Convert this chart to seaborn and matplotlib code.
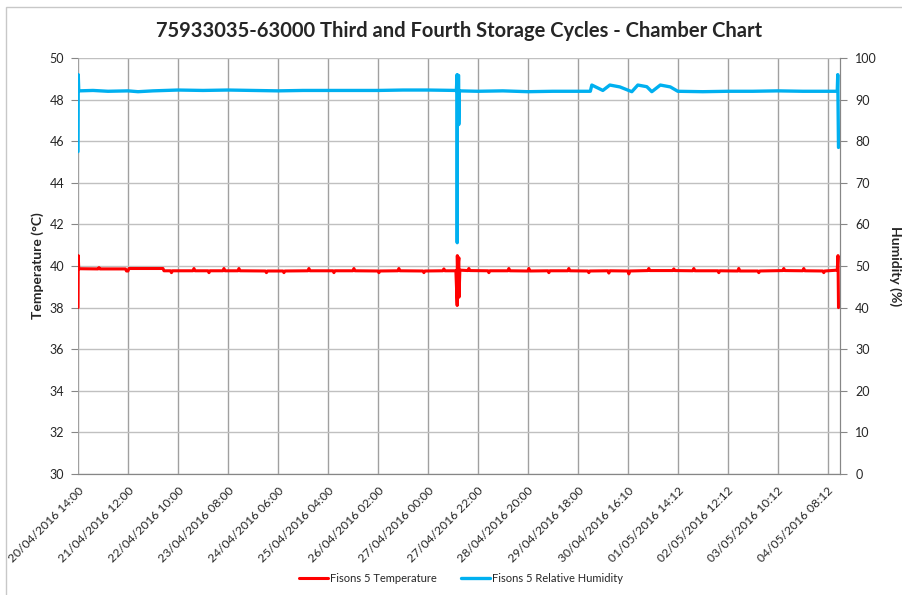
import matplotlib
matplotlib.use("Agg")
import matplotlib.pyplot as plt
import seaborn as sns
from matplotlib.patches import Rectangle

# tick labels along the reading axis (one label every N readings)
tick_labels = [
    "20/04/2016 14:00", "21/04/2016 12:00", "22/04/2016 10:00", "23/04/2016 08:00",
    "24/04/2016 06:00", "25/04/2016 04:00", "26/04/2016 02:00", "27/04/2016 00:00",
    "27/04/2016 22:00", "28/04/2016 20:00", "29/04/2016 18:00", "30/04/2016 16:10",
    "01/05/2016 14:12", "02/05/2016 12:12", "03/05/2016 10:12", "04/05/2016 08:12",
]

# (reading position in label steps, temperature °C)
temp_readings = [
    (0.00, 38.0), (0.005, 40.5), (0.015, 39.87), (0.40, 39.86), (0.42, 39.92), (0.44, 39.86),
    (0.95, 39.86), (0.97, 39.76), (1.00, 39.76), (1.02, 39.88), (1.70, 39.88), (1.72, 39.77),
    (1.85, 39.77), (1.87, 39.68), (1.89, 39.77), (2.30, 39.77), (2.32, 39.88), (2.34, 39.77),
    (2.60, 39.77), (2.62, 39.68), (2.64, 39.77), (2.90, 39.77), (2.92, 39.88), (2.94, 39.77),
    (3.20, 39.77), (3.22, 39.88), (3.24, 39.77), (3.75, 39.76), (3.77, 39.68), (3.79, 39.76),
    (4.10, 39.76), (4.12, 39.68), (4.14, 39.76), (4.60, 39.77), (4.62, 39.88), (4.64, 39.77),
    (5.10, 39.77), (5.12, 39.68), (5.14, 39.77), (5.50, 39.77), (5.52, 39.88), (5.54, 39.77),
    (6.00, 39.76), (6.02, 39.68), (6.04, 39.76), (6.40, 39.77), (6.42, 39.88), (6.44, 39.77),
    (6.90, 39.76), (6.92, 39.68), (6.94, 39.76), (7.30, 39.77), (7.32, 39.86), (7.34, 39.77),
    (7.56, 39.77), (7.586, 38.1), (7.589, 40.5), (7.595, 39.8), (7.62, 40.4), (7.623, 38.5),
    (7.64, 39.8), (7.80, 39.78), (7.82, 39.88), (7.84, 39.78), (8.20, 39.77), (8.22, 39.68),
    (8.24, 39.77), (8.60, 39.77), (8.62, 39.88), (8.64, 39.77), (9.00, 39.76), (9.02, 39.88),
    (9.04, 39.76), (9.40, 39.77), (9.42, 39.68), (9.44, 39.77), (9.80, 39.77), (9.82, 39.88),
    (9.84, 39.77), (10.20, 39.76), (10.22, 39.68), (10.24, 39.76), (10.60, 39.77), (10.62, 39.66),
    (10.64, 39.77), (11.00, 39.76), (11.02, 39.62), (11.04, 39.76), (11.40, 39.78), (11.42, 39.88),
    (11.44, 39.78), (11.90, 39.78), (11.92, 39.86), (11.94, 39.78), (12.30, 39.77), (12.32, 39.88),
    (12.34, 39.77), (12.80, 39.77), (12.82, 39.68), (12.84, 39.77), (13.20, 39.76), (13.22, 39.88),
    (13.24, 39.76), (13.60, 39.76), (13.62, 39.68), (13.64, 39.76), (14.10, 39.78), (14.12, 39.88),
    (14.14, 39.78), (14.50, 39.77), (14.52, 39.88), (14.54, 39.77), (14.90, 39.76), (14.92, 39.68),
    (14.94, 39.76), (15.19, 39.8), (15.205, 40.5), (15.215, 38.0),
]

# (reading position in label steps, relative humidity %)
hum_readings = [
    (0.00, 77.5), (0.005, 96.0), (0.015, 92.1), (0.30, 92.2), (0.60, 92.0), (1.00, 92.1),
    (1.20, 91.9), (1.50, 92.1), (2.00, 92.3), (2.50, 92.2), (3.00, 92.3), (3.50, 92.2),
    (4.00, 92.1), (4.50, 92.2), (5.00, 92.2), (5.50, 92.2), (6.00, 92.2), (6.50, 92.3),
    (7.00, 92.3), (7.57, 92.2), (7.585, 96.0), (7.587, 55.6), (7.59, 95.8), (7.615, 95.8),
    (7.618, 84.0), (7.63, 92.1), (8.00, 92.0), (8.50, 92.1), (9.00, 91.9), (9.50, 92.0),
    (10.00, 92.0), (10.25, 92.0), (10.28, 93.5), (10.50, 92.2), (10.64, 93.5), (10.84, 93.05),
    (11.08, 91.9), (11.20, 93.5), (11.38, 93.1), (11.48, 91.9), (11.65, 93.5), (11.85, 93.05),
    (12.00, 92.0), (12.50, 91.9), (13.00, 92.0), (13.50, 92.0), (14.00, 92.1), (14.50, 92.0),
    (15.19, 92.0), (15.20, 96.0), (15.215, 78.5),
]

temp_x = [p for p, v in temp_readings]
temp_y = [v for p, v in temp_readings]
hum_x = [p for p, v in hum_readings]
hum_y = [v for p, v in hum_readings]

sns.set_style("white")
plt.rcParams['font.family'] = ['Lato', 'DejaVu Sans']

fig = plt.figure(figsize=(9.02, 5.95), dpi=100)
ax = fig.add_axes([78 / 902, 1 - 474 / 595, (840 - 78) / 902, (474 - 58) / 595])
ax2 = ax.twinx()

sns.lineplot(x=temp_x, y=temp_y, ax=ax, estimator=None, sort=False,
             color="#ff0000", linewidth=2.2, label="Fisons 5 Temperature", legend=False)
sns.lineplot(x=hum_x, y=hum_y, ax=ax2, estimator=None, sort=False,
             color="#00b0f0", linewidth=2.4, label="Fisons 5 Relative Humidity", legend=False)

ax.set_xlim(0, 15.245)
ax.set_ylim(30, 50)
ax2.set_ylim(0, 100)
ax.set_xticks(range(len(tick_labels)))
ax.set_xticklabels(tick_labels, rotation=45, ha="right", rotation_mode="anchor", fontsize=8.7)
ax.set_yticks(range(30, 51, 2))
ax2.set_yticks(range(0, 101, 10))
ax.tick_params(axis="y", labelsize=9, length=5, color="#868686", pad=5)
ax.tick_params(axis="x", length=5, color="#868686", pad=3)
ax2.tick_params(axis="y", labelsize=9, length=5, color="#868686", pad=6)

ax.set_axisbelow(True)
ax.xaxis.grid(True, color="#a0a0a0", linewidth=1)
ax.yaxis.grid(True, color="#c0c0c0", linewidth=1)
ax2.grid(False)

for a in (ax, ax2):
    for s in ("top", "left"):
        a.spines[s].set_visible(False)
    a.spines["bottom"].set_color("#868686")
    a.spines["right"].set_color("#868686")

ax.set_ylabel("Temperature (°C)", fontsize=10, fontweight="bold", labelpad=4)
ax2.set_ylabel("Humidity (%)", fontsize=10, fontweight="bold", rotation=270, labelpad=18)

fig.text(459 / 902, 1 - 31 / 595, "75933035-63000 Third and Fourth Storage Cycles - Chamber Chart",
         ha="center", va="center", fontsize=14.5, fontweight="bold")

h1, l1 = ax.get_legend_handles_labels()
h2, l2 = ax2.get_legend_handles_labels()
fig.legend(h1 + h2, l1 + l2, loc="center", bbox_to_anchor=(461 / 902, 1 - 578 / 595),
           ncol=2, frameon=False, fontsize=8, handlelength=2.6, columnspacing=2.2,
           handletextpad=0.2)

fig.patches.append(Rectangle((6 / 902, -0.1), 1.1, 1 - 7 / 595 + 0.1, transform=fig.transFigure,
                             fill=False, edgecolor="#c8c8c8", linewidth=1, zorder=0))

fig.savefig("out.png", dpi=100)
